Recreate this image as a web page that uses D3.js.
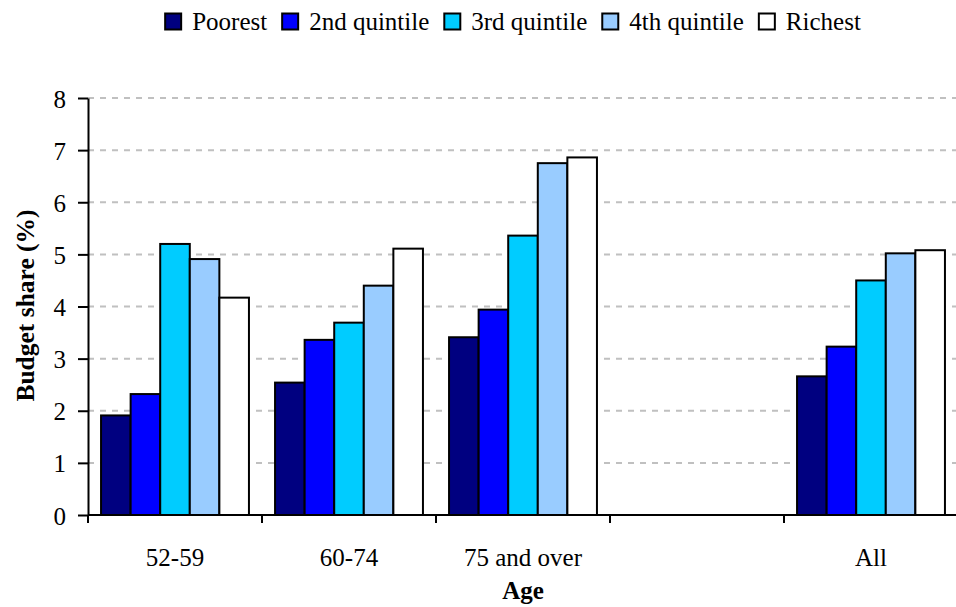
<!DOCTYPE html>
<html>
<head>
<meta charset="utf-8">
<script src="https://cdn.jsdelivr.net/npm/d3@7"></script>
<style>
  html, body { margin: 0; padding: 0; background: #fff; }
  svg text { font-family: "Liberation Serif", "Times New Roman", "DejaVu Serif", serif; }
</style>
</head>
<body>
<svg id="chart" width="956" height="607"></svg>
<script>
// Age groups (the blank slot separates the age bands from the overall figure)
const categories = ["52-59", "60-74", "75 and over", "", "All"];
const seriesNames = ["Poorest", "2nd quintile", "3rd quintile", "4th quintile", "Richest"];
const seriesColors = ["#000080", "#0000ff", "#00ccff", "#99ccff", "#ffffff"];

// Budget share (%) by income quintile, one array per quintile across categories
const poorest   = [1.91, 2.54, 3.41, null, 2.66];
const second    = [2.32, 3.36, 3.94, null, 3.23];
const third     = [5.20, 3.69, 5.36, null, 4.50];
const fourth    = [4.91, 4.40, 6.75, null, 5.02];
const richest   = [4.17, 5.11, 6.86, null, 5.08];
const seriesValues = [poorest, second, third, fourth, richest];

const yTicks = [0, 1, 2, 3, 4, 5, 6, 7, 8];

const FONT = "'Liberation Serif', 'Times New Roman', 'DejaVu Serif', serif";
const FS = 25;
const svg = d3.select("#chart");
const x0 = 88, x1 = 958;
const yTop = 98, yBot = 515;

const x = d3.scaleBand().domain(d3.range(categories.length)).range([x0, x1]);
const gap = x.bandwidth() * 0.075;
const inner = d3.scaleBand().domain(d3.range(seriesNames.length))
  .range([gap, x.bandwidth() - gap]);
const y = d3.scaleLinear().domain([0, 8]).range([yBot, yTop]);

// Dashed horizontal gridlines
svg.append("g").selectAll("line").data(yTicks.filter(t => t > 0)).join("line")
  .attr("x1", x0).attr("x2", x1)
  .attr("y1", d => y(d)).attr("y2", d => y(d))
  .attr("stroke", "#c0c0c0").attr("stroke-width", 2)
  .attr("stroke-dasharray", "6,6");

// Bars
const rows = [];
categories.forEach((c, ci) => {
  seriesValues.forEach((vals, si) => {
    if (vals[ci] != null) rows.push({ ci, si, v: vals[ci] });
  });
});
svg.append("g").selectAll("rect").data(rows).join("rect")
  .attr("x", d => x(d.ci) + inner(d.si))
  .attr("y", d => y(d.v))
  .attr("width", inner.bandwidth())
  .attr("height", d => y(0) - y(d.v))
  .attr("fill", d => seriesColors[d.si])
  .attr("stroke", "#000").attr("stroke-width", 2);

// Y axis
const yAxis = d3.axisLeft(y).tickValues(yTicks).tickSize(10).tickSizeOuter(0).tickPadding(12);
const gy = svg.append("g").attr("transform", `translate(${x0},0)`).call(yAxis)
  .attr("font-family", FONT);
gy.select(".domain").attr("stroke", "#000").attr("stroke-width", 2);
gy.selectAll(".tick line").attr("stroke", "#000").attr("stroke-width", 2);
gy.selectAll(".tick text").attr("font-size", FS).attr("fill", "#000").attr("dy", "0.36em");

// X axis: baseline with ticks at category boundaries
const gx = svg.append("g");
gx.append("line").attr("x1", x0).attr("x2", x1).attr("y1", yBot).attr("y2", yBot)
  .attr("stroke", "#000").attr("stroke-width", 2);
gx.selectAll("line.tk").data(d3.range(categories.length + 1)).join("line").attr("class", "tk")
  .attr("x1", i => x0 + i * x.bandwidth()).attr("x2", i => x0 + i * x.bandwidth())
  .attr("y1", yBot).attr("y2", yBot + 8)
  .attr("stroke", "#000").attr("stroke-width", 2);
gx.selectAll("text").data(categories.map((c, i) => ({ c, i })).filter(d => d.c)).join("text")
  .attr("x", d => x(d.i) + x.bandwidth() / 2)
  .attr("y", 566)
  .attr("text-anchor", "middle")
  .attr("font-family", FONT)
  .attr("font-size", FS)
  .text(d => d.c);

// Axis titles
svg.append("text").attr("x", (x0 + x1) / 2).attr("y", 599).attr("text-anchor", "middle")
  .attr("font-family", FONT)
  .attr("font-size", 25).attr("font-weight", "bold").text("Age");
svg.append("text")
  .attr("transform", `translate(34,${(yTop + yBot) / 2 - 1}) rotate(-90)`)
  .attr("text-anchor", "middle")
  .attr("font-family", FONT)
  .attr("font-size", 25.5).attr("font-weight", "bold").text("Budget share (%)");

// Legend
const legend = svg.append("g");
const items = legend.selectAll("g").data(seriesNames).join("g");
items.append("rect").attr("width", 16).attr("height", 16).attr("y", -16.5)
  .attr("fill", (d, i) => seriesColors[i]).attr("stroke", "#000").attr("stroke-width", 2);
items.append("text").attr("x", 27).attr("y", 0)
  .attr("font-family", FONT).attr("font-size", FS).text(d => d);
let cx = 0;
items.each(function () {
  const g = d3.select(this);
  g.attr("transform", `translate(${cx},0)`);
  cx += 27 + g.select("text").node().getComputedTextLength() + 15;
});
const totalW = cx - 15;
legend.attr("transform", `translate(${513 - totalW / 2},30)`);
</script>
</body>
</html>
